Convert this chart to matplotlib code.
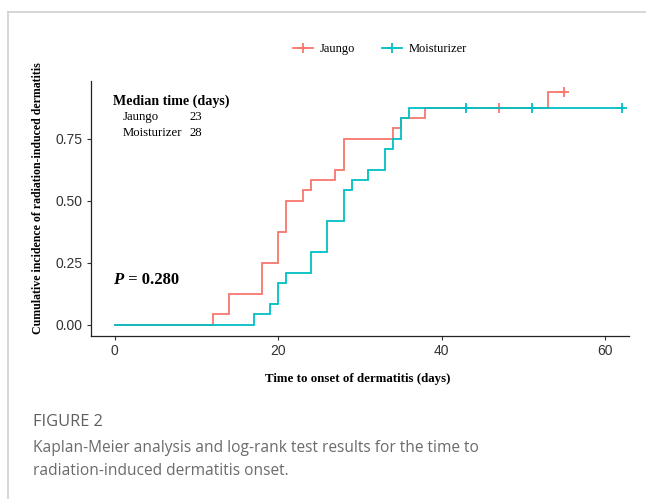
import matplotlib
matplotlib.use("Agg")
import matplotlib.pyplot as plt
from matplotlib.lines import Line2D

# ---- data ----
groups = ["Jaungo", "Moisturizer"]
colors = ["#F8766D", "#00BFC4"]

jaungo_times = [0, 12, 14, 18, 20, 21, 23, 24, 27, 28, 34, 35, 38, 53, 55]
jaungo_cuminc = [0.000, 0.042, 0.125, 0.250, 0.375, 0.500, 0.542, 0.583, 0.625,
                 0.750, 0.792, 0.833, 0.875, 0.938, 0.938]
jaungo_censor_times = [47, 55]
jaungo_censor_cuminc = [0.875, 0.938]

moist_times = [0, 17, 19, 20, 21, 24, 26, 28, 29, 31, 33, 34, 35, 36, 62]
moist_cuminc = [0.000, 0.042, 0.083, 0.167, 0.208, 0.292, 0.417, 0.542, 0.583,
                0.625, 0.708, 0.750, 0.833, 0.875, 0.875]
moist_censor_times = [43, 51, 62]
moist_censor_cuminc = [0.875, 0.875, 0.875]

median_times = [23, 28]
p_value = "0.280"
x_ticks = [0, 20, 40, 60]
y_ticks = [0.00, 0.25, 0.50, 0.75]

W, H = 646, 499
fig = plt.figure(figsize=(W / 100, H / 100), dpi=100)

def fx(px):
    return px / W

def fy(py):
    return 1 - py / H

# outer frame (left + top border)
fig.add_artist(Line2D([fx(8), fx(8)], [fy(12), 0], color="#cfcfcf", lw=1.2))
fig.add_artist(Line2D([fx(8), 1], [fy(12), fy(12)], color="#cfcfcf", lw=1.2))

ax = fig.add_axes([fx(91), fy(335.7), fx(629) - fx(91), fy(80.7) - fy(335.7)])

series = [
    (jaungo_times, jaungo_cuminc, jaungo_censor_times, jaungo_censor_cuminc),
    (moist_times, moist_cuminc, moist_censor_times, moist_censor_cuminc),
]
for (t, v, ct, cv), col in zip(series, colors):
    ax.step(t, v, where="post", color=col, lw=1.3, solid_joinstyle="miter")
    ax.plot(ct, cv, linestyle="none", marker="+", color=col, ms=7, mew=1.3)

ax.set_xlim(-2.9, 62.9)
ax.set_ylim(-0.045, 0.985)
ax.set_xticks(x_ticks)
ax.set_yticks(y_ticks)
ax.set_xticklabels([str(x) for x in x_ticks])
ax.set_yticklabels([f"{y:.2f}" for y in y_ticks])
for s in ["top", "right"]:
    ax.spines[s].set_visible(False)
for s in ["left", "bottom"]:
    ax.spines[s].set_linewidth(0.9)
    ax.spines[s].set_color("#222222")
ax.tick_params(direction="out", length=3, width=0.8, color="#333333",
               labelsize=10, labelcolor="#333333", pad=3)
for lab in ax.get_xticklabels() + ax.get_yticklabels():
    lab.set_family("Liberation Sans")

serif = "Liberation Serif"
fig.text(fx(357.5), fy(379), "Time to onset of dermatitis (days)", family=serif,
         fontweight="bold", fontsize=9.3, ha="center", va="center")
fig.text(fx(38), fy(198.5), "Cumulative incidence of radiation-induced dermatitis",
         family=serif, fontweight="bold", fontsize=8.6, rotation=90,
         ha="center", va="center")

# median annotation
fig.text(fx(113), fy(101), "Median time (days)", family=serif,
         fontweight="bold", fontsize=10.1, va="center", ha="left")
fig.text(fx(123), fy(117), groups[0], family=serif, fontsize=9.2,
         va="center", ha="left")
fig.text(fx(190), fy(117), str(median_times[0]), family=serif, fontsize=9.2,
         va="center", ha="left")
fig.text(fx(123), fy(133), groups[1], family=serif, fontsize=9.2,
         va="center", ha="left")
fig.text(fx(190), fy(133), str(median_times[1]), family=serif, fontsize=9.2,
         va="center", ha="left")

# p-value
fig.text(fx(113), fy(280), "P", family=serif, fontstyle="italic",
         fontweight="bold", fontsize=12, va="center", ha="left")
fig.text(fx(124), fy(280), " = " + p_value, family=serif,
         fontweight="bold", fontsize=12, va="center", ha="left")

# legend
handles = [Line2D([0], [0], color=c, lw=1.3, marker="+", ms=7, mew=1.3)
           for c in colors]
fig.legend(handles, groups, loc="center", bbox_to_anchor=(fx(380), fy(49)),
           ncol=2, frameon=False, handlelength=1.6, handletextpad=0.5,
           columnspacing=2.2, prop={"family": serif, "size": 9})

# caption
fig.text(fx(33), fy(422), "FIGURE 2", family="Open Sans", fontsize=11.8,
         color="#5f5f5f", va="center", ha="left")
fig.text(fx(33), fy(448),
         "Kaplan-Meier analysis and log-rank test results for the time to",
         family="Open Sans", fontsize=11.2, color="#6b6b6b", va="center",
         ha="left")
fig.text(fx(33), fy(471), "radiation-induced dermatitis onset.",
         family="Open Sans", fontsize=11.2, color="#6b6b6b", va="center",
         ha="left")

fig.savefig("out.png", dpi=100)
